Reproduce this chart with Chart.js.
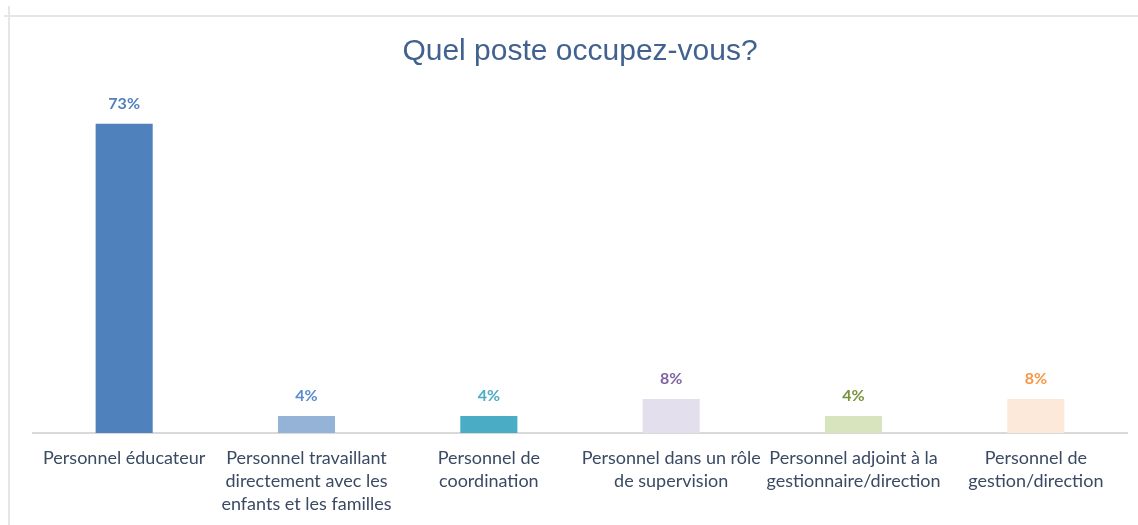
<!DOCTYPE html>
<html>
<head>
<meta charset="utf-8">
<script src="https://cdn.jsdelivr.net/npm/chart.js@4"></script>
<style>
  html, body { margin: 0; padding: 0; background: #ffffff; }
  #wrap { position: relative; width: 1138px; height: 525px; overflow: hidden; }
  #frameTop { position: absolute; left: 4px; top: 15px; width: 1134px; height: 2px; background: #e6e6e6; }
  #frameLeft { position: absolute; left: 8px; top: 6px; width: 2px; height: 519px; background: #e6e6e6; }
  canvas { position: absolute; left: 0; top: 0; }
</style>
</head>
<body>
<div id="wrap">
  <div id="frameTop"></div>
  <div id="frameLeft"></div>
  <canvas id="c" width="1138" height="539"></canvas>
</div>
<script>
const categories = [
  "Personnel éducateur",
  ["Personnel travaillant", "directement avec les", "enfants et les familles"],
  ["Personnel de", "coordination"],
  ["Personnel dans un rôle", "de supervision"],
  ["Personnel adjoint à la", "gestionnaire/direction"],
  ["Personnel de", "gestion/direction"]
];
const values = [73, 4, 4, 8, 4, 8];
const barColors = ["#4F81BD", "#95B3D7", "#4BACC6", "#E4DFEC", "#D7E4BD", "#FDE9D9"];
const labelColors = ["#4F81BD", "#5B8BD0", "#4BACC6", "#8064A2", "#77933C", "#F79646"];
const titleText = "Quel poste occupez-vous?";

const valueLabels = {
  id: 'valueLabels',
  afterDatasetsDraw(chart) {
    const ctx = chart.ctx;
    const meta = chart.getDatasetMeta(0);
    ctx.save();
    ctx.font = "bold 16px Lato, 'Open Sans', sans-serif";
    ctx.textAlign = 'center';
    ctx.textBaseline = 'middle';
    meta.data.forEach((bar, i) => {
      ctx.fillStyle = labelColors[i];
      ctx.fillText(values[i] + '%', bar.x, bar.y - 20);
    });
    ctx.restore();
  }
};

new Chart(document.getElementById('c'), {
  type: 'bar',
  data: {
    labels: categories,
    datasets: [{
      data: values,
      backgroundColor: barColors,
      borderWidth: 0,
      categoryPercentage: 1,
      barPercentage: 0.313
    }]
  },
  options: {
    responsive: false,
    animation: false,
    layout: { padding: { left: 33, right: 11, top: 0, bottom: 9 } },
    plugins: {
      legend: { display: false },
      tooltip: { enabled: false },
      title: {
        display: true,
        text: titleText,
        color: '#41618F',
        font: { family: "'Liberation Sans', Arial, sans-serif", size: 30, weight: 'normal', lineHeight: 1.2 },
        padding: { top: 34, bottom: 24 }
      }
    },
    scales: {
      x: {
        grid: { display: false, drawTicks: false },
        border: { display: true, color: '#d9d9d9', width: 2 },
        ticks: {
          color: '#3B4A63',
          font: { family: "Lato, 'Open Sans', sans-serif", size: 18, lineHeight: '23px' },
          padding: 14,
          maxRotation: 0,
          autoSkip: false
        }
      },
      y: {
        display: false,
        min: 0,
        max: 80
      }
    }
  },
  plugins: [valueLabels]
});
</script>
</body>
</html>
